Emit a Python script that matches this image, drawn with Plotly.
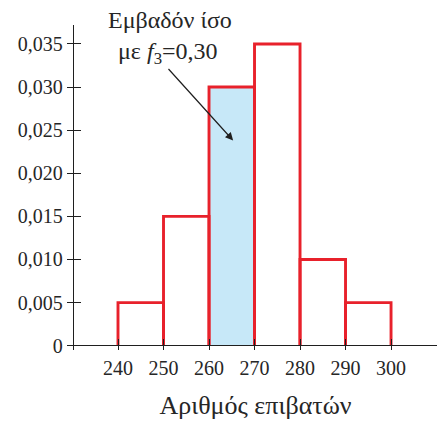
import plotly.graph_objects as go

# Class intervals (number of passengers) and histogram heights (relative frequency / class width)
bin_edges = [240, 250, 260, 270, 280, 290, 300]
densities = [0.005, 0.015, 0.030, 0.035, 0.010, 0.005]
highlight_index = 2  # third class, f3 = 0.30

y_tick_vals = [0, 0.005, 0.010, 0.015, 0.020, 0.025, 0.030, 0.035]
y_tick_text = ["0", "0,005", "0,010", "0,015", "0,020", "0,025", "0,030", "0,035"]
x_tick_vals = [240, 250, 260, 270, 280, 290, 300]
x_tick_text = ["240", "250", "260", "270", "280", "290", "300"]

RED = "#e8212b"
BLUE = "#c7e8f8"
INK = "#1f1f1f"
TEXT = "#262626"
SERIF = "Liberation Serif"

centers = [(a + b) / 2 for a, b in zip(bin_edges[:-1], bin_edges[1:])]
widths = [b - a for a, b in zip(bin_edges[:-1], bin_edges[1:])]
fills = [BLUE if i == highlight_index else "white" for i in range(len(densities))]

# Outline of every rectangle (open at the bottom, sitting on the x axis)
ox, oy = [], []
for a, b, h in zip(bin_edges[:-1], bin_edges[1:], densities):
    ox += [a, a, b, b, None]
    oy += [0, h, h, 0, None]

fig = go.Figure()
fig.add_trace(go.Bar(
    x=centers, y=densities, width=widths,
    marker=dict(color=fills, line=dict(width=0)),
    hoverinfo="skip", showlegend=False,
))
fig.add_trace(go.Scatter(
    x=ox, y=oy, mode="lines",
    line=dict(color=RED, width=2.9),
    hoverinfo="skip", showlegend=False,
))
# empty trace on the overlaid axis carrying the inner half of the y ticks
fig.add_trace(go.Scatter(x=[], y=[], yaxis="y2", showlegend=False, hoverinfo="skip"))

y_range = [-0.0005, 0.0372]

fig.update_layout(
    width=437, height=422,
    margin=dict(l=74, r=0, t=25, b=72),
    paper_bgcolor="white", plot_bgcolor="white",
    font=dict(family=SERIF, color=TEXT),
    bargap=0,
    xaxis=dict(
        range=[230.33, 310.1],
        showgrid=False, zeroline=False, showline=False,
        tickmode="array", tickvals=x_tick_vals, ticktext=x_tick_text,
        ticks="inside", ticklen=11, tickwidth=1.3, tickcolor=INK,
        ticklabelstandoff=4,
        tickfont=dict(family=SERIF, size=20, color=TEXT),
        title=dict(text="Αριθμός επιβατών",
                   font=dict(family=SERIF, size=26, color=TEXT),
                   standoff=17),
    ),
    yaxis=dict(
        range=y_range,
        showgrid=False,
        zeroline=True, zerolinecolor=INK, zerolinewidth=1.3,
        zerolinelayer="above traces",
        showline=True, linecolor=INK, linewidth=1.3,
        tickmode="array", tickvals=y_tick_vals, ticktext=y_tick_text,
        ticks="outside", ticklen=6, tickwidth=1.3, tickcolor=INK,
        tickfont=dict(family=SERIF, size=20, color=TEXT),
    ),
    yaxis2=dict(
        range=y_range, overlaying="y", side="left",
        showgrid=False, zeroline=False, showline=False,
        tickmode="array", tickvals=y_tick_vals,
        ticks="inside", ticklen=7, tickwidth=1.3, tickcolor=INK,
        showticklabels=False,
    ),
)

# Callout text
fig.add_annotation(
    xref="paper", yref="paper", x=0.264, y=1.0154,
    text="Εμβαδόν ίσο", showarrow=False,
    xanchor="center", yanchor="middle",
    font=dict(family=SERIF, size=24, color=TEXT),
)
fig.add_annotation(
    xref="paper", yref="paper", x=0.258, y=0.914,
    text="με <i>f</i><sub>3</sub>=0,30", showarrow=False,
    xanchor="center", yanchor="middle",
    font=dict(family=SERIF, size=24, color=TEXT),
)
# Arrow pointing into the highlighted rectangle
fig.add_annotation(
    x=265.3, y=0.0238, xref="x", yref="y",
    ax=-66, ay=-73, text="", showarrow=True,
    arrowhead=2, arrowsize=1.3, arrowwidth=1.2, arrowcolor=INK,
)

fig.write_html("out.html")
